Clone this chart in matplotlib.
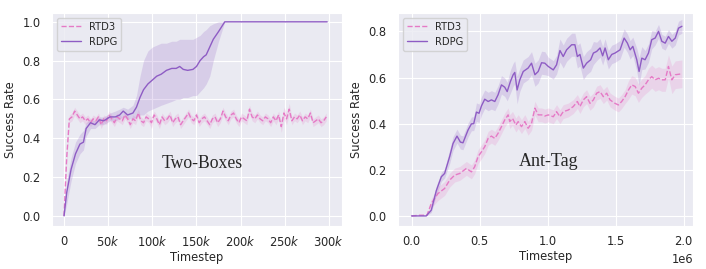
import numpy as np
import matplotlib
matplotlib.use("Agg")
import matplotlib.pyplot as plt
import seaborn as sns

# ---- Two-Boxes (timesteps in thousands) ----
rtd3_left = [0.00, 0.30, 0.50, 0.51, 0.54, 0.52, 0.50, 0.51, 0.49, 0.50,
             0.48, 0.50, 0.49, 0.51, 0.47, 0.50, 0.49, 0.52, 0.50, 0.48,
             0.51, 0.50, 0.49, 0.52, 0.50, 0.47, 0.50, 0.49, 0.53, 0.49,
             0.48, 0.51, 0.50, 0.48, 0.52, 0.50, 0.47, 0.51, 0.49, 0.50,
             0.52, 0.48, 0.50, 0.51, 0.47, 0.49, 0.51, 0.53, 0.50, 0.49,
             0.52, 0.48, 0.50, 0.51, 0.49, 0.47, 0.50, 0.51, 0.48, 0.50,
             0.54, 0.51, 0.49, 0.52, 0.53, 0.50, 0.48, 0.51, 0.50, 0.49,
             0.55, 0.51, 0.50, 0.52, 0.50, 0.49, 0.51, 0.50, 0.48, 0.51,
             0.49, 0.52, 0.46, 0.53, 0.50, 0.55, 0.49, 0.51, 0.50, 0.52,
             0.49, 0.51, 0.50, 0.53, 0.48, 0.49, 0.50, 0.48, 0.49, 0.51]
rtd3_left_err = [0.00, 0.03, 0.02, 0.02, 0.02, 0.02, 0.02, 0.02, 0.02, 0.02,
                 0.02, 0.02, 0.02, 0.02, 0.02, 0.02, 0.02, 0.02, 0.02, 0.02,
                 0.02, 0.02, 0.02, 0.02, 0.02, 0.02, 0.02, 0.02, 0.02, 0.02,
                 0.02, 0.02, 0.02, 0.03, 0.02, 0.02, 0.02, 0.02, 0.02, 0.02,
                 0.02, 0.02, 0.02, 0.02, 0.02, 0.02, 0.02, 0.02, 0.02, 0.02,
                 0.02, 0.02, 0.02, 0.02, 0.02, 0.02, 0.02, 0.02, 0.02, 0.02,
                 0.02, 0.02, 0.02, 0.02, 0.02, 0.02, 0.02, 0.02, 0.02, 0.02,
                 0.02, 0.02, 0.02, 0.02, 0.02, 0.02, 0.02, 0.02, 0.02, 0.02,
                 0.02, 0.02, 0.03, 0.03, 0.03, 0.03, 0.02, 0.02, 0.02, 0.02,
                 0.02, 0.02, 0.02, 0.02, 0.02, 0.02, 0.02, 0.02, 0.02, 0.02]
rtd3_left_step = 3  # k timesteps between points

rdpg_left_x = [0, 3, 8, 13, 18, 22, 25, 30, 35, 40, 45, 52, 58, 63, 67, 72,
               78, 82, 86, 90, 95, 100, 105, 110, 116, 122, 127, 131, 135,
               140, 146, 150, 154, 158, 161, 165, 169, 175, 182, 298]
rdpg_left = [0.00, 0.12, 0.24, 0.32, 0.37, 0.38, 0.45, 0.48, 0.47, 0.495,
             0.49, 0.51, 0.51, 0.52, 0.54, 0.52, 0.53, 0.56, 0.61, 0.65,
             0.68, 0.70, 0.72, 0.73, 0.75, 0.76, 0.76, 0.77, 0.755, 0.75,
             0.755, 0.77, 0.80, 0.82, 0.83, 0.87, 0.91, 0.95, 1.00, 1.00]
rdpg_left_hi = [0.00, 0.18, 0.30, 0.38, 0.42, 0.44, 0.48, 0.50, 0.49, 0.51,
                0.51, 0.53, 0.54, 0.55, 0.56, 0.55, 0.57, 0.62, 0.72, 0.80,
                0.85, 0.87, 0.88, 0.89, 0.89, 0.90, 0.90, 0.91, 0.91, 0.91,
                0.91, 0.92, 0.93, 0.95, 0.96, 0.98, 0.99, 1.00, 1.00, 1.00]
rdpg_left_lo = [0.00, 0.06, 0.18, 0.27, 0.32, 0.34, 0.41, 0.45, 0.45, 0.47,
                0.47, 0.49, 0.49, 0.50, 0.51, 0.50, 0.50, 0.51, 0.52, 0.52,
                0.54, 0.55, 0.56, 0.57, 0.58, 0.59, 0.60, 0.60, 0.61, 0.61,
                0.62, 0.62, 0.64, 0.66, 0.68, 0.72, 0.80, 0.90, 1.00, 1.00]

# ---- Ant-Tag (timesteps in millions) ----
rdpg_right_x = [0, 0.108, 0.145, 0.182, 0.219, 0.243, 0.28, 0.305, 0.334, 0.359,
                0.378, 0.415, 0.44, 0.457, 0.477, 0.496, 0.514, 0.538, 0.563, 0.587,
                0.612, 0.636, 0.661, 0.685, 0.703, 0.727, 0.747, 0.759, 0.776, 0.796,
                0.821, 0.857, 0.882, 0.907, 0.931, 0.956, 0.98, 1.005, 1.042, 1.066,
                1.091, 1.115, 1.14, 1.177, 1.201, 1.219, 1.238, 1.263, 1.287, 1.317,
                1.337, 1.361, 1.386, 1.405, 1.423, 1.447, 1.472, 1.496, 1.533, 1.563,
                1.587, 1.607, 1.627, 1.656, 1.673, 1.693, 1.717, 1.742, 1.766, 1.791,
                1.816, 1.84, 1.865, 1.889, 1.914, 1.939, 1.963, 1.988]
rdpg_right = [0, 0, 0.025, 0.11, 0.17, 0.184, 0.257, 0.314, 0.346, 0.32,
              0.317, 0.372, 0.399, 0.40, 0.45, 0.445, 0.477, 0.506, 0.496, 0.503,
              0.496, 0.525, 0.568, 0.558, 0.539, 0.583, 0.612, 0.622, 0.546, 0.59,
              0.626, 0.641, 0.662, 0.612, 0.626, 0.664, 0.662, 0.648, 0.633, 0.655,
              0.717, 0.691, 0.72, 0.742, 0.742, 0.691, 0.70, 0.641, 0.662, 0.677,
              0.706, 0.713, 0.728, 0.694, 0.728, 0.677, 0.70, 0.706, 0.72, 0.771,
              0.749, 0.72, 0.735, 0.677, 0.626, 0.684, 0.677, 0.706, 0.764, 0.771,
              0.80, 0.757, 0.749, 0.778, 0.757, 0.771, 0.814, 0.822]
rdpg_right_err = [0.0, 0.0, 0.01, 0.02, 0.02, 0.02, 0.03, 0.03, 0.03, 0.03,
                  0.03, 0.03, 0.03, 0.03, 0.04, 0.04, 0.04, 0.04, 0.04, 0.04,
                  0.04, 0.04, 0.04, 0.04, 0.04, 0.05, 0.05, 0.05, 0.06, 0.05,
                  0.05, 0.05, 0.05, 0.05, 0.05, 0.05, 0.05, 0.04, 0.04, 0.04,
                  0.05, 0.05, 0.05, 0.05, 0.05, 0.05, 0.05, 0.05, 0.05, 0.05,
                  0.05, 0.04, 0.04, 0.04, 0.04, 0.04, 0.04, 0.04, 0.04, 0.04,
                  0.04, 0.04, 0.04, 0.05, 0.06, 0.05, 0.04, 0.04, 0.04, 0.03,
                  0.03, 0.03, 0.03, 0.03, 0.03, 0.03, 0.03, 0.03]

rtd3_right_x = [0, 0.06, 0.113, 0.145, 0.194, 0.243, 0.28, 0.317, 0.354, 0.403,
                0.44, 0.464, 0.489, 0.514, 0.538, 0.563, 0.587, 0.612, 0.636, 0.661,
                0.685, 0.71, 0.722, 0.742, 0.767, 0.784, 0.808, 0.833, 0.857, 0.882,
                0.907, 0.931, 0.956, 0.98, 1.005, 1.042, 1.066, 1.091, 1.115, 1.152,
                1.189, 1.219, 1.238, 1.263, 1.287, 1.312, 1.337, 1.361, 1.386, 1.41,
                1.435, 1.459, 1.496, 1.521, 1.545, 1.57, 1.595, 1.619, 1.644, 1.668,
                1.693, 1.717, 1.742, 1.766, 1.791, 1.816, 1.84, 1.865, 1.889, 1.914,
                1.939, 1.988]
rtd3_right = [0, 0.003, 0.003, 0.054, 0.097, 0.119, 0.155, 0.177, 0.184, 0.206,
              0.191, 0.213, 0.257, 0.278, 0.30, 0.336, 0.346, 0.336, 0.358, 0.387,
              0.416, 0.438, 0.409, 0.423, 0.394, 0.409, 0.387, 0.409, 0.38, 0.401,
              0.467, 0.438, 0.438, 0.433, 0.438, 0.43, 0.452, 0.43, 0.452, 0.459,
              0.474, 0.496, 0.474, 0.503, 0.517, 0.488, 0.503, 0.532, 0.539, 0.517,
              0.532, 0.503, 0.488, 0.481, 0.496, 0.517, 0.546, 0.568, 0.561, 0.532,
              0.554, 0.568, 0.59, 0.604, 0.59, 0.597, 0.59, 0.59, 0.648, 0.59,
              0.612, 0.616]
rtd3_right_err = [0.0, 0.0, 0.0, 0.02, 0.03, 0.03, 0.03, 0.03, 0.03, 0.03,
                  0.03, 0.03, 0.03, 0.03, 0.03, 0.03, 0.03, 0.03, 0.03, 0.03,
                  0.03, 0.03, 0.03, 0.03, 0.03, 0.03, 0.03, 0.03, 0.03, 0.03,
                  0.03, 0.03, 0.03, 0.03, 0.03, 0.03, 0.03, 0.03, 0.03, 0.03,
                  0.03, 0.03, 0.03, 0.03, 0.03, 0.03, 0.03, 0.03, 0.03, 0.03,
                  0.03, 0.03, 0.03, 0.03, 0.03, 0.03, 0.04, 0.04, 0.04, 0.04,
                  0.04, 0.04, 0.05, 0.05, 0.05, 0.05, 0.05, 0.05, 0.05, 0.06,
                  0.06, 0.06]

left_ticks = [0, 50, 100, 150, 200, 250, 300]
left_ticklabels = ["0", "50$k$", "100$k$", "150$k$", "200$k$", "250$k$", "300$k$"]

c_rtd3 = "#e57ac6"
c_rdpg = "#8e5cc4"

sns.set_style("darkgrid")
plt.rcParams["font.family"] = ["DejaVu Sans"]

fs = 8.3

fig = plt.figure(figsize=(7.06, 2.69), dpi=100)
ax1 = fig.add_axes([0.0737, 0.160, 0.411, 0.792])
ax2 = fig.add_axes([0.5637, 0.160, 0.418, 0.792])

# left panel
xl = np.arange(len(rtd3_left)) * rtd3_left_step * 1000
m = np.array(rtd3_left)
e = np.array(rtd3_left_err)
ax1.fill_between(xl, m - e, m + e, color=c_rtd3, alpha=0.2, lw=0)
ax1.plot(xl, m, "--", color=c_rtd3, lw=1.0, label="RTD3")
xr = np.array(rdpg_left_x) * 1000
ax1.fill_between(xr, rdpg_left_lo, rdpg_left_hi, color=c_rdpg, alpha=0.2, lw=0)
ax1.plot(xr, rdpg_left, "-", color=c_rdpg, lw=1.0, label="RDPG")
ax1.set_xlim(-13600, 315000)
ax1.set_ylim(-0.052, 1.046)
ax1.set_xticks(np.array(left_ticks) * 1000)
ax1.set_xticklabels(left_ticklabels)
ax1.set_yticks([0, 0.2, 0.4, 0.6, 0.8, 1.0])
ax1.text(156000, 0.27, "Two-Boxes", family="Liberation Serif", fontsize=12.7,
         ha="center", va="center")

# right panel
xr2 = np.array(rdpg_right_x) * 1e6
m2 = np.array(rdpg_right)
e2 = np.array(rdpg_right_err)
xt2 = np.array(rtd3_right_x) * 1e6
m3 = np.array(rtd3_right)
e3 = np.array(rtd3_right_err)
ax2.fill_between(xt2, m3 - e3, m3 + e3, color=c_rtd3, alpha=0.2, lw=0)
ax2.plot(xt2, m3, "--", color=c_rtd3, lw=1.0, label="RTD3")
ax2.fill_between(xr2, m2 - e2, m2 + e2, color=c_rdpg, alpha=0.2, lw=0)
ax2.plot(xr2, m2, "-", color=c_rdpg, lw=1.0, label="RDPG")
ax2.set_xlim(-0.1e6, 2.07e6)
ax2.set_ylim(-0.0435, 0.88)
ax2.set_xticks([0, 0.5e6, 1.0e6, 1.5e6, 2.0e6])
ax2.set_yticks([0, 0.2, 0.4, 0.6, 0.8])
ax2.text(1.01e6, 0.238, "Ant-Tag", family="Liberation Serif", fontsize=13,
         ha="center", va="center")

for ax in (ax1, ax2):
    ax.set_xlabel("Timestep", fontsize=fs, labelpad=1)
    ax.set_ylabel("Success Rate", fontsize=fs, labelpad=4)
    ax.tick_params(axis="x", labelsize=fs, pad=3.3)
    ax.tick_params(axis="y", labelsize=fs, pad=4.8)
    ax.xaxis.get_offset_text().set_fontsize(fs)
    ax.legend(loc="upper left", fontsize=7.2, handlelength=2.0)

fig.savefig("out.png", dpi=100)
